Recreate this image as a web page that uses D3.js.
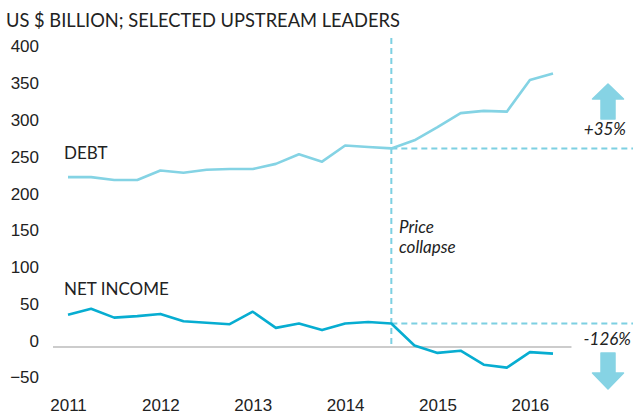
<!DOCTYPE html>
<html>
<head>
<meta charset="UTF-8">
<title>Debt vs net income</title>
<script src="https://cdn.jsdelivr.net/npm/d3@7"></script>
<style>
  body { margin: 0; background: #fff; }
  svg { display: block; font-family: Lato, "Open Sans", sans-serif; }
  .axis text { font-size: 17px; fill: #222; }
  .lbl { font-size: 17px; fill: #222; }
  .note { font-size: 17px; fill: #222; font-style: italic; }
</style>
</head>
<body>
<svg width="633" height="415"></svg>
<script>
// quarterly, 2011 Q1 .. 2016 Q2
var quarters = d3.range(22)
var debt = [231, 231, 227, 227, 240, 237, 241, 242, 242, 249, 262, 252, 274, 272, 270, 281, 299, 318, 321, 320, 363, 372]
var netIncome = [44, 52, 40, 42, 45, 35, 33, 31, 48, 26, 32, 23, 32, 34, 32, 2, -8, -5, -24, -28, -7, -9]
var years = [2011, 2012, 2013, 2014, 2015, 2016]
var yTicks = [-50, 0, 50, 100, 150, 200, 250, 300, 350, 400]
var collapseIdx = 14

var width = 633, height = 415
var svg = d3.select("svg")

var x = d3.scaleLinear().domain([0, 21]).range([68, 553])
var y = d3.scaleLinear().domain([-50, 400]).range([383.8, 52.8])

// title
svg.append("text")
  .attr("x", 6).attr("y", 27)
  .attr("class", "lbl")
  .style("font-size", "18.3px")
  .text("US $ BILLION; SELECTED UPSTREAM LEADERS")

// y axis
var yAxis = svg.append("g")
  .attr("class", "axis")
  .attr("transform", "translate(39,0)")
  .call(d3.axisLeft(y).tickValues(yTicks).tickSize(0).tickPadding(0))
yAxis.select(".domain").remove()
yAxis.selectAll("text").attr("dy", "-0.05em")

// x axis
var xAxis = svg.append("g")
  .attr("class", "axis")
  .attr("transform", "translate(0,398)")
  .call(d3.axisBottom(x)
    .tickValues(years.map(function(d, i) { return i * 4 }))
    .tickFormat(function(d) { return years[d / 4] })
    .tickSize(0).tickPadding(0))
xAxis.select(".domain").remove()
xAxis.selectAll("text").attr("dy", "0.76em")

// zero line
svg.append("line")
  .attr("x1", x(-0.65)).attr("x2", x(21.8))
  .attr("y1", y(0)).attr("y2", y(0))
  .attr("stroke", "#9a9a9a").attr("stroke-width", 1.2)

// reference dashed lines
var dashCol = "#7dd0e2"
svg.append("line")
  .attr("x1", x(collapseIdx)).attr("x2", x(collapseIdx))
  .attr("y1", y(420)).attr("y2", y(0))
  .attr("stroke", dashCol).attr("stroke-width", 2).attr("stroke-dasharray", "6,4")
svg.append("line")
  .attr("x1", x(collapseIdx)).attr("x2", width)
  .attr("y1", y(debt[collapseIdx])).attr("y2", y(debt[collapseIdx]))
  .attr("stroke", dashCol).attr("stroke-width", 2).attr("stroke-dasharray", "6,4")
svg.append("line")
  .attr("x1", x(collapseIdx)).attr("x2", width)
  .attr("y1", y(netIncome[collapseIdx])).attr("y2", y(netIncome[collapseIdx]))
  .attr("stroke", dashCol).attr("stroke-width", 2).attr("stroke-dasharray", "6,4")

var line = d3.line()
  .x(function(d, i) { return x(quarters[i]) })
  .y(function(d) { return y(d) })

svg.append("path")
  .datum(debt)
  .attr("d", line)
  .attr("fill", "none")
  .attr("stroke", "#84d3e4")
  .attr("stroke-width", 2.6)
  .attr("stroke-linejoin", "round")

svg.append("path")
  .datum(netIncome)
  .attr("d", line)
  .attr("fill", "none")
  .attr("stroke", "#07add1")
  .attr("stroke-width", 2.6)
  .attr("stroke-linejoin", "round")

// labels
svg.append("text").attr("class", "lbl").attr("x", 64).attr("y", 159).text("DEBT")
svg.append("text").attr("class", "lbl").attr("x", 64).attr("y", 295).text("NET INCOME")
svg.append("text").attr("class", "note").attr("x", 399).attr("y", 233).text("Price")
svg.append("text").attr("class", "note").attr("x", 399).attr("y", 253).text("collapse")
svg.append("text").attr("class", "note").attr("x", 626).attr("y", 135)
  .attr("text-anchor", "end").text("+35%")
svg.append("text").attr("class", "note").attr("x", 631).attr("y", 345)
  .attr("text-anchor", "end").text("-126%")

// arrows
var arrowCol = "#86d3e4"
function arrow(cx, tip, headBase, tail) {
  var hw = 15.5, sw = 7
  return "M" + cx + "," + tip +
    "L" + (cx + hw) + "," + headBase +
    "L" + (cx + sw) + "," + headBase +
    "L" + (cx + sw) + "," + tail +
    "L" + (cx - sw) + "," + tail +
    "L" + (cx - sw) + "," + headBase +
    "L" + (cx - hw) + "," + headBase + "Z"
}
svg.append("path").attr("d", arrow(608, 84, 99, 119))
  .attr("fill", arrowCol).attr("stroke", arrowCol).attr("stroke-linejoin", "round").attr("stroke-width", 1.5)
svg.append("path").attr("d", arrow(608, 389, 373, 353))
  .attr("fill", arrowCol).attr("stroke", arrowCol).attr("stroke-linejoin", "round").attr("stroke-width", 1.5)
</script>
</body>
</html>
